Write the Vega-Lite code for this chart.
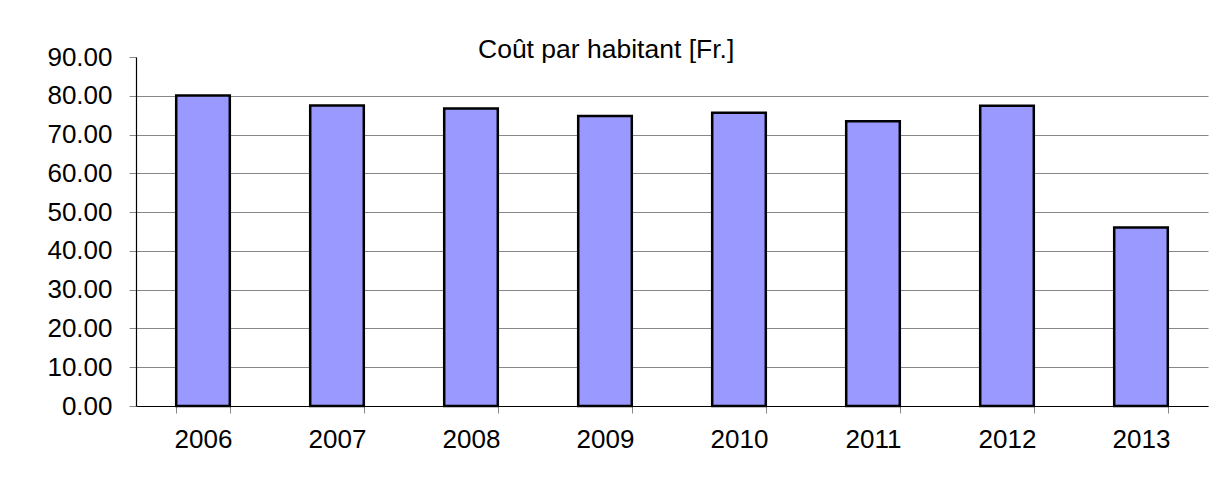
{
  "$schema": "https://vega.github.io/schema/vega-lite/v6.json",
  "autosize": "none",
  "width": 1072,
  "height": 349,
  "padding": {"left": 136, "top": 57, "right": 18, "bottom": 93},
  "background": "white",
  "config": {
    "font": "Liberation Sans",
    "view": {"stroke": null}
  },
  "title": {
    "text": "Coût par habitant [Fr.]",
    "frame": "group",
    "anchor": "start",
    "dx": 342,
    "dy": 40,
    "offset": 0,
    "baseline": "alphabetic",
    "fontSize": 26.5,
    "fontWeight": "normal",
    "color": "black",
    "font": "Liberation Sans"
  },
  "data": {
    "values": [
      {"annee": "2006", "cout": 80.1},
      {"annee": "2007", "cout": 77.5},
      {"annee": "2008", "cout": 76.7},
      {"annee": "2009", "cout": 74.8},
      {"annee": "2010", "cout": 75.6},
      {"annee": "2011", "cout": 73.4},
      {"annee": "2012", "cout": 77.4},
      {"annee": "2013", "cout": 46.0}
    ]
  },
  "mark": {"type": "bar", "fill": "#9999FF", "stroke": "black", "strokeWidth": 2.5},
  "encoding": {
    "x": {
      "field": "annee",
      "type": "nominal",
      "sort": null,
      "scale": {"paddingInner": 0.6, "paddingOuter": 0.3},
      "axis": {
        "title": null,
        "labelAngle": 0,
        "labelFontSize": 26,
        "labelColor": "black",
        "labelPadding": 13,
        "tickBand": "extent",
        "tickSize": 7,
        "tickColor": "#888888",
        "domainColor": "black",
        "domainWidth": 1.2,
        "grid": false
      }
    },
    "y": {
      "field": "cout",
      "type": "quantitative",
      "scale": {"domain": [0, 90], "nice": false},
      "axis": {
        "title": null,
        "values": [0, 10, 20, 30, 40, 50, 60, 70, 80, 90],
        "format": ".2f",
        "labelFontSize": 26,
        "labelColor": "black",
        "labelPadding": 17,
        "tickSize": 7,
        "tickColor": "#888888",
        "domainColor": "black",
        "domainWidth": 1.2,
        "grid": true,
        "gridColor": "#888888",
        "gridWidth": 1,
        "gridOpacity": {"condition": {"test": "datum.value >= 90", "value": 0}, "value": 1}
      }
    }
  }
}
